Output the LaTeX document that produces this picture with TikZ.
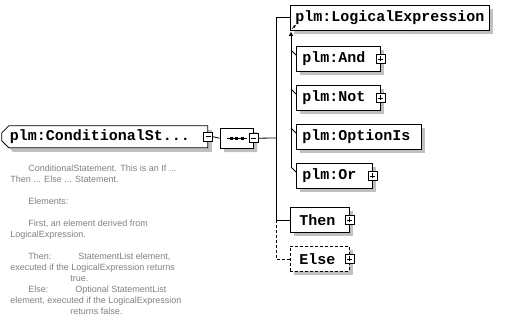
\documentclass[tikz,border=0pt]{standalone}
\usepackage{fontspec}
\setmainfont{Liberation Sans}
\setmonofont{Liberation Mono}
\usetikzlibrary{shapes.misc, shadows, arrows.meta, calc, positioning}
\definecolor{cShadow}{RGB}{192,192,192}
\definecolor{cDoc}{RGB}{128,128,128}
\tikzset{
	boxshadow/.style={general shadow={fill=cShadow, shadow xshift=4pt, shadow yshift=-4pt}},
	elem/.style     ={rectangle, draw=black, fill=white, minimum height=25pt, inner xsep=6pt, inner ysep=0pt, align=left, font=\ttfamily\bfseries\fontsize{15}{15}\selectfont, boxshadow},
	optelem/.style  ={elem, dash pattern=on 3pt off 2pt},
	rootbox/.style  ={chamfered rectangle, chamfered rectangle corners={north west, south west}, chamfered rectangle xsep=3pt, chamfered rectangle ysep=4pt, draw=black, fill=white, minimum height=18pt, inner xsep=5pt, inner ysep=0pt, align=left, font=\ttfamily\bfseries\fontsize{15}{15}\selectfont, boxshadow},
	seqbox/.style   ={chamfered rectangle, chamfered rectangle xsep=6pt, chamfered rectangle ysep=6pt, draw=black, fill=white, minimum width=33pt, minimum height=20pt, inner sep=0pt, boxshadow},
	pm/.style       ={rectangle, draw=black, line width=0.7pt, fill=white, minimum size=9pt, inner sep=0pt},
	plusbox/.style  ={pm, path picture={\draw[line width=0.7pt] ([xshift=-2.5pt]path picture bounding box.center) -- ([xshift=2.5pt]path picture bounding box.center) ([yshift=-2.5pt]path picture bounding box.center) -- ([yshift=2.5pt]path picture bounding box.center);}},
	minusbox/.style ={pm, path picture={\draw[line width=0.7pt] ([xshift=-2.5pt]path picture bounding box.center) -- ([xshift=2.5pt]path picture bounding box.center);}},
	optline/.style  ={dash pattern=on 3pt off 2pt},
	doc/.style      ={anchor=north west, inner sep=0pt, align=left, text=cDoc, font=\fontsize{9}{11}\selectfont},
}
\begin{document}
\begin{tikzpicture}[x=1pt, y=-1pt, line width=0.8pt]
	\useasboundingbox (0,0) rectangle (510,334);
	% root element and sequence
	\node[rootbox, anchor=north west, text width=190pt] (cond) at (5,129) {plm:ConditionalSt...};
	\node[minusbox] (condm) at (cond.east) {};
	\node[seqbox, anchor=north west] (seq) at (220,128) {};
	\node[minusbox] (seqm) at (seq.east) {};
	\draw ([xshift=-10pt]seq.center) -- ([xshift=10pt]seq.center);
	\fill ($(seq.center)+(-7,-1.5)$) rectangle +(3,3);
	\fill ($(seq.center)+(-1.5,-1.5)$) rectangle +(3,3);
	\fill ($(seq.center)+(4,-1.5)$) rectangle +(3,3);
	% children
	\node[elem, anchor=north west, minimum width=199pt, align=center, inner xsep=0pt] (logexp) at (290,5) {plm:LogicalExpression};
	\draw[-{Latex[length=3pt,width=3pt]}, line width=0.6pt] ($(logexp.south west)+(2,-2)$) -- ++(4,-4);
	\node[elem, anchor=north west, text width=72pt] (and) at (296,46) {plm:And};
	\node[plusbox] (andp) at (and.east) {};
	\node[elem, anchor=north west, text width=72pt] (not) at (296,85) {plm:Not};
	\node[plusbox] (notp) at (not.east) {};
	\node[elem, anchor=north west, text width=113pt] (optis) at (296,124) {plm:OptionIs};
	\node[elem, anchor=north west, text width=64pt] (or) at (296,163) {plm:Or};
	\node[plusbox] (orp) at (or.east) {};
	\node[elem, anchor=north west, inner xsep=9pt, text width=41pt] (then) at (290,207) {Then};
	\node[plusbox] (thenp) at (then.east) {};
	\node[optelem, anchor=north west, inner xsep=9pt, text width=41pt] (else) at (290,246) {Else};
	\node[plusbox] (elsep) at (else.east) {};
	% connectors
	\coordinate (bus) at (276,138);
	\draw (condm.east) -- (seq.west);
	\draw (seqm.east) -- (bus);
	\draw (logexp.west -| bus) -- (logexp.west);
	\draw (logexp.west -| bus) -- (then.west -| bus) -- (then.west);
	\draw[optline] (then.west -| bus) -- (else.west -| bus) -- (else.west);
	% substitution group
	\draw[-{Triangle[length=4pt,width=4pt]}] ($(or.north west)+(-5,4)$) -- ($(logexp.south west)+(1,1)$);
	\draw ($(and.north west)+(-5,4)$) -- ($(and.north west)+(0,9)$);
	\draw ($(not.north west)+(-5,4)$) -- ($(not.north west)+(0,9)$);
	\draw ($(optis.north west)+(-5,4)$) -- ($(optis.north west)+(0,9)$);
	\draw ($(or.north west)+(-5,4)$) -- ($(or.north west)+(0,9)$);
	% documentation
	\node[doc] (note) at (10,165) {\hspace*{18pt}ConditionalStatement. This is an If ...\\
		Then ... Else ... Statement.\\[11pt]
		\hspace*{18pt}Elements:\\[11pt]
		\hspace*{18pt}First, an element derived from\\
		LogicalExpression.\\[11pt]
		\hspace*{18pt}\makebox[50pt][l]{Then:}StatementList element,\\
		executed if the LogicalExpression returns\\
		\hspace*{60pt}true.\\
		\hspace*{18pt}\makebox[47pt][l]{Else:}Optional StatementList\\
		element, executed if the LogicalExpression\\
		\hspace*{60pt}returns false.};
\end{tikzpicture}
\end{document}
